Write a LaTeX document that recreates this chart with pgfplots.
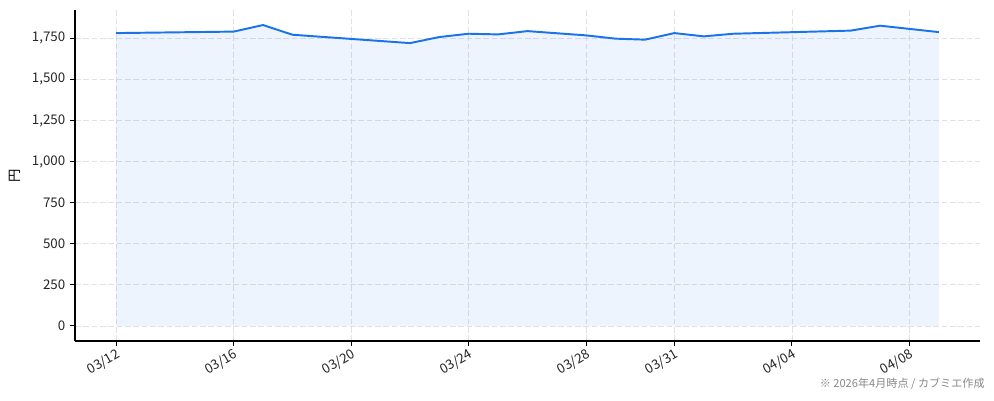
\documentclass[border=0pt]{standalone}
\usepackage{fontspec}
\setmainfont{Noto Sans CJK JP}
\usepackage{pgfplots}
\pgfplotsset{compat=1.18}
\definecolor{lineblue}{HTML}{1A73E8}
\definecolor{gridgray}{HTML}{E0E0E6}
\definecolor{notegray}{HTML}{888888}

\begin{document}
\begin{tikzpicture}[x=1pt,y=1pt]
% bounding box: 994x401 px at 0.72 pt per px, axis lower-left at (75px, 60px)
\path[use as bounding box] (-54pt,-43.2pt) rectangle (661.7pt,245.5pt);
\begin{axis}[
    at={(0,0)}, anchor=south west,
    scale only axis,
    width=651.6pt, height=238.3pt,
    xmin=-1.4, xmax=29.4,
    ymin=-91.5, ymax=1922.5,
    axis x line*=bottom, axis y line*=left,
    axis line style={line width=0.8pt},
    tick align=outside,
    major tick length=3.5pt,
    tick style={line width=0.8pt, black},
    xtick={0,4,8,12,16,19,23,27},
    xticklabels={03/12,03/16,03/20,03/24,03/28,03/31,04/04,04/08},
    xticklabel style={rotate=30, anchor=north east, inner sep=1pt},
    ytick={0,250,500,750,1000,1250,1500,1750},
    yticklabel style={/pgf/number format/.cd, 1000 sep={,}},
    /pgf/number format/assume math mode=true,
    ticklabel style={font=\fontsize{9.6}{11}\selectfont, text=black!85},
    grid=major,
    major grid style={gridgray, dash pattern=on 4pt off 2pt, line width=0.6pt},
    ylabel={円},
    ylabel style={at={(axis description cs:-0.066,0.5)}, anchor=center, font=\fontsize{9.6}{11}\selectfont},
    clip=false,
]
\addplot[draw=none, fill=lineblue, fill opacity=0.08] coordinates {
    (0,1782) (4,1791) (5,1831) (6,1772) (10,1721) (11,1758) (12,1778)
    (13,1774) (14,1794) (16,1768) (17,1748) (18,1742) (19,1782) (20,1762)
    (21,1778) (25,1797) (26,1827) (28,1788)
} \closedcycle;
\addplot[lineblue, line width=1.4pt, line join=round] coordinates {
    (0,1782) (4,1791) (5,1831) (6,1772) (10,1721) (11,1758) (12,1778)
    (13,1774) (14,1794) (16,1768) (17,1748) (18,1742) (19,1782) (20,1762)
    (21,1778) (25,1797) (26,1827) (28,1788)
};
\node[anchor=east, inner sep=0pt, text=notegray, font=\fontsize{8}{9}\selectfont]
    at (rel axis cs:1.0055,-0.13) {※ 2026年4月時点 / カブミエ作成};
\end{axis}
\end{tikzpicture}
\end{document}
